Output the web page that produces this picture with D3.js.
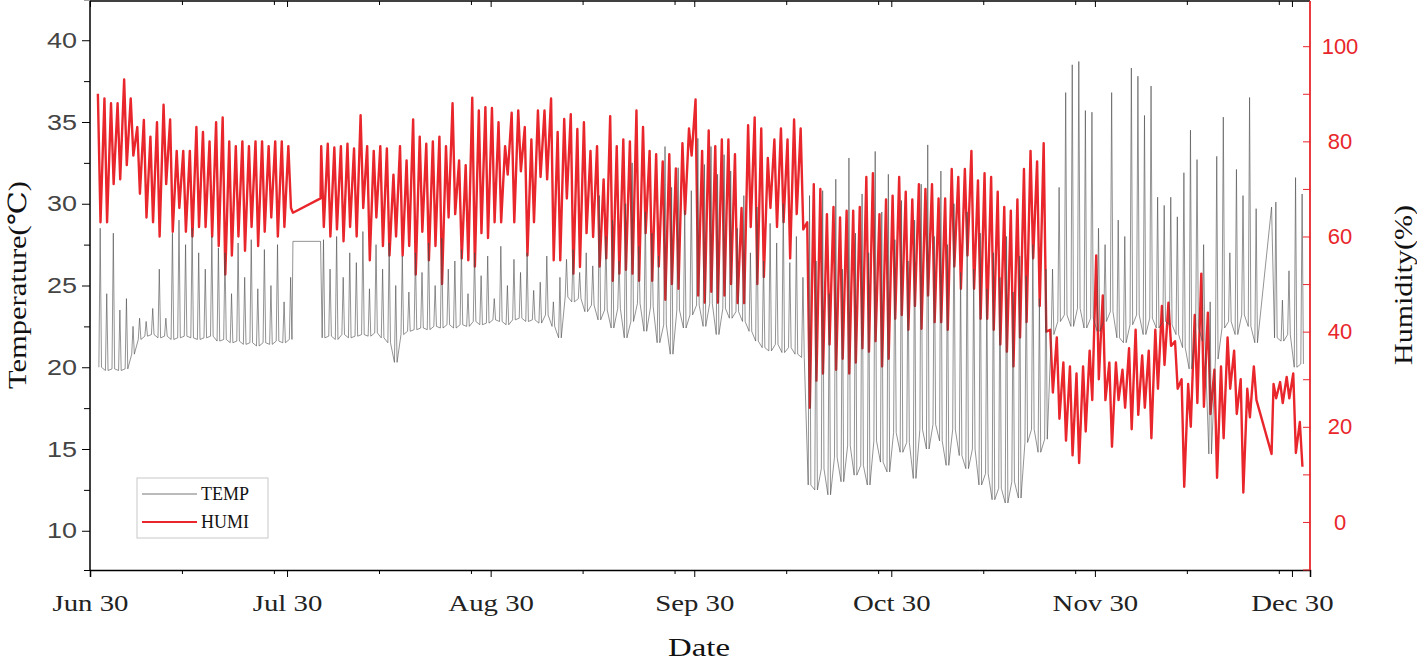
<!DOCTYPE html>
<html>
<head>
<meta charset="utf-8">
<title>Temperature and humidity</title>
<script src="https://cdn.jsdelivr.net/npm/d3@7"></script>
<style>
  body { margin: 0; background: #fff; }
  .serif { font-family: "Liberation Serif", "DejaVu Serif", serif; }
  .sans { font-family: "Liberation Sans", Arial, sans-serif; }
</style>
</head>
<body>
<svg id="chart" width="1417" height="662"></svg>
<script>
// daily values, index 0 = Jul 1 (null = no record)
var tempMin = [
  20.0,19.8,19.9,19.8,19.9,20.8,21.7,21.9,22.0,21.8,
  21.9,21.7,21.8,21.9,21.8,21.7,21.8,21.9,21.6,21.7,
  21.5,21.6,21.4,21.5,21.3,21.5,21.4,21.6,21.5,21.7,
  null,null,null,null,
  21.8,21.9,21.7,22.0,21.8,21.9,22.0,21.9,22.1,21.8,
  21.5,20.3,22.0,22.2,22.3,22.4,22.3,22.5,22.4,22.6,
  22.4,22.6,22.5,22.8,22.6,22.7,22.9,22.8,22.6,22.9,
  23.0,22.8,22.9,22.7,23.2,22.5,21.8,24.3,24.0,
  24.2,23.4,23.8,22.9,23.5,22.4,23.6,21.8,22.8,23.9,
  22.2,23.7,21.5,22.6,20.8,23.5,22.4,23.2,
  23.8,22.5,23.9,22.0,23.6,23.0,23.4,22.8,22.2,21.6,
  21.2,21.0,21.4,20.9,21.2,20.8,20.6,12.8,
  12.5,13.8,12.2,14.5,13.0,15.2,13.4,14.0,12.8,15.5,
  14.2,13.6,16.0,14.8,15.4,13.2,16.2,15.0,16.5,
  15.5,14.0,16.2,14.6,13.8,15.0,12.8,13.5,11.9,12.6,
  11.7,13.0,12.0,15.4,16.2,14.8,15.6,
  22.0,22.8,23.2,22.5,23.6,22.4,23.0,22.2,22.8,23.4,
  21.8,21.5,22.6,23.2,22.0,23.0,22.4,22.8,
  22.6,22.0,21.2,19.9,22.5,21.6,14.7,20.5,22.4,22.8,
  22.0,23.2,22.5,21.5,
  null,null,
  21.8,21.6,22.0,20.0,20.2
];
var tempMax = [
  28.5,24.5,28.2,23.5,24.2,22.5,23.0,22.8,23.6,26.0,
  23.0,28.2,29.0,27.5,28.5,27.0,26.0,28.0,27.3,27.0,
  24.5,27.6,25.5,27.8,24.8,27.2,25.0,27.5,24.0,25.5,
  null,null,null,null,
  27.8,26.0,28.0,25.5,27.0,26.4,28.3,24.8,27.5,26.0,
  27.6,25.0,26.8,24.6,27.0,25.8,27.6,25.0,27.9,26.0,
  26.5,27.2,24.5,27.0,25.6,26.8,24.2,27.4,25.0,26.6,
  25.8,27.0,24.7,25.2,26.8,24.0,25.5,26.6,27.2,
  25.8,27.0,26.2,30.5,28.0,29.0,26.5,30.0,32.5,27.4,
  29.5,28.2,26.8,33.5,31.0,32.2,29.6,30.8,
  34.0,32.4,33.5,31.8,33.0,32.0,28.5,30.5,27.0,29.8,
  26.5,28.8,27.6,30.0,26.4,28.0,25.5,30.5,
  26.5,30.8,24.5,31.5,26.0,32.8,28.2,30.6,27.0,33.2,
  29.5,31.8,27.8,30.2,26.5,29.0,31.2,33.6,28.0,
  32.0,27.5,30.0,25.8,29.5,26.0,28.2,24.8,27.0,25.5,
  28.0,24.6,26.8,25.6,27.5,24.2,26.0,
  26.0,31.0,36.8,38.5,38.7,35.7,35.6,28.5,27.5,36.8,
  29.0,28.0,38.3,37.8,35.4,37.2,30.4,29.9,
  30.4,29.2,31.9,34.5,32.7,27.5,24.0,32.9,35.3,27.0,
  32.1,30.5,36.5,29.7,
  null,null,
  30.1,24.1,25.9,31.6,30.6
];
var humiMax = [
  90,89,88,88,93,89,83,84.5,81,84,
  87.7,84.6,78,78,78,83,82,80,84,85,
  80,79,80,79,80,80,79,80,80,79,
  null,null,null,null,
  79,79.5,78.7,79,79.5,78.5,85.5,79,78,79,
  78.5,73,79,76,84.6,81,79.5,80,81,79,
  88,76,75,89.2,86.5,87.2,87,84,79,86,
  86.5,83,80.4,86.5,86.5,89,82,84.7,85.7,
  82.6,84,78,79,72,85.3,79,80.4,80,86.5,
  83,78,77.3,75.8,77.3,74.3,79.6,82.7,
  88.8,78,82.3,79,80.4,80.4,77.3,66,83.4,85,
  82.7,76.5,80.4,82.7,80.4,84.6,82.7,63,
  71,70,64.7,66.2,64,65.4,65.4,66.2,72.5,73.3,
  64.7,67.8,68.6,72.5,69.4,67.8,71,70,71,
  68,68,74.2,72.5,74.2,78,71.8,73.3,72.5,69.4,
  66.2,65.4,67.8,74.2,78,75.8,79.6,
  40.4,38.8,33.5,32.7,31.2,32.7,36,56,47.6,33.5,
  33.5,32,36.5,40.4,35,36,40.4,45.4,
  46.1,38,30,29,43.5,52.2,44,32,32.7,38.8,
  36,30,28,32.7,
  null,null,
  29,29.4,30.5,31.2,21
];
var humiMin = [
  63,63,71,72,75,77,69,64,63,60,
  71,61,66,61,60,62,62,60,58,52,
  56,60,57,62,58,61,64,60,62,66,
  null,null,null,null,
  62,60,61.5,59,62,60,66,55,64,58,
  56,60,56,58,52,61,55,58,50,64,
  64.7,55.4,55,53.7,60.7,59.7,63,63,73,63,
  73.7,56,63,72.5,72,55,55,68,52.2,
  53.6,60.7,59.9,53.7,55.4,50.7,52.2,53,52.2,50.7,
  60.7,50.7,53.7,46.7,50,49,64.7,77,
  47.6,46.1,48.4,46.1,47.6,50,46,46,62,50,
  51.5,66,62,63,55.4,64.7,61.5,24,
  29.7,31.2,37.3,32,34.3,31.2,33.5,36.5,35.8,38,
  32.7,34.3,42.7,43.5,40.4,45.4,40.6,47.6,42,
  42,40.4,53.7,49,56,49,42.7,42.7,40.4,37.3,
  35.8,32.7,38.8,42,55.4,45.4,40,
  27.2,21.7,17.1,14,12.4,19,25.6,30,25.6,15.8,
  25.6,24,19.5,22.5,24,17.6,28,33,
  37,28,7.4,20,25,24.2,22.7,9.3,17.6,28,
  22.7,6.2,22,25.6,
  null,null,
  26,25,26,14.5,11.6
];
// readings at the edges of the two gaps [day since Jun 30, value]
var tempEdges = [[30.9, 27.7], [35.1, 27.7], [179.9, 29.8]];
var humiEdges = [[30.9, 65], [35.1, 68], [179.9, 14.3]];

var majorTicks = ["2020-06-30","2020-07-30","2020-08-30","2020-09-30","2020-10-30","2020-11-30","2020-12-30"];
var minorTicks = ["2020-07-14","2020-07-28","2020-08-13","2020-08-27","2020-09-13","2020-09-27",
                  "2020-10-14","2020-10-28","2020-11-13","2020-11-27","2020-12-14","2020-12-28"];
var tempTicks = [10, 15, 20, 25, 30, 35, 40];
var humiTicks = [0, 20, 40, 60, 80, 100];

var svg = d3.select("#chart");
var plotL = 90, plotR = 1310, plotT = 1, plotB = 570;
var DAY = 864e5;
var t0 = Date.UTC(2020, 5, 30);
function dayDate(d) { return new Date(t0 + d * DAY); }

var x = d3.scaleUtc().domain([dayDate(0), dayDate(185.75)]).range([plotL, plotR]);
var yT = d3.scaleLinear().domain([7.6, 42.4]).range([plotB, plotT]);
var yH = d3.scaleLinear().domain([-10.1, 109.5]).range([plotB, plotT]);

var tempPts = [], humiPts = [];
tempMin.forEach(function(v, i) {
  if (v == null) return;
  var d = i + 1;
  tempPts.push([d + 0.35, v], [d + 0.55, tempMax[i]], [d + 0.75, v]);
});
humiMax.forEach(function(v, i) {
  if (v == null) return;
  var d = i + 1;
  humiPts.push([d + 0.2, v], [d + 0.6, humiMin[i]]);
});
tempPts = tempPts.concat(tempEdges).sort(function(a, b) { return a[0] - b[0]; });
humiPts = humiPts.concat(humiEdges).sort(function(a, b) { return a[0] - b[0]; });

var humiLine = d3.line().x(function(p) { return x(dayDate(p[0])); }).y(function(p) { return yH(p[1]); });
var tempLine = d3.line().x(function(p) { return x(dayDate(p[0])); }).y(function(p) { return yT(p[1]); });

var red = "#e8262b";
svg.append("path").datum(humiPts).attr("d", humiLine)
  .attr("fill", "none").attr("stroke", red).attr("stroke-width", 2.4).attr("stroke-linejoin", "round");
svg.append("path").datum(tempPts).attr("d", tempLine)
  .attr("fill", "none").attr("stroke", "#4a4a4a").attr("stroke-width", 0.8).attr("stroke-opacity", 0.75);

function dates(list) { return list.map(function(s) { return new Date(s); }); }

// frame top with inward ticks
svg.append("line").attr("x1", plotL).attr("x2", plotR).attr("y1", plotT).attr("y2", plotT)
  .attr("stroke", "#000").attr("stroke-width", 1.5);
svg.append("g").attr("transform", "translate(0," + plotT + ")")
  .call(d3.axisBottom(x).tickValues(dates(majorTicks)).tickSize(6).tickFormat(""))
  .select(".domain").remove();
svg.append("g").attr("transform", "translate(0," + plotT + ")")
  .call(d3.axisBottom(x).tickValues(dates(minorTicks)).tickSize(4).tickFormat(""))
  .select(".domain").remove();

// bottom axis
var xAx = svg.append("g").attr("transform", "translate(0," + plotB + ")")
  .call(d3.axisBottom(x).tickValues(dates(majorTicks))
    .tickSize(7).tickPadding(17).tickFormat(d3.utcFormat("%b %d")));
xAx.select(".domain").attr("stroke-width", 1.5);
xAx.selectAll("text").attr("class", "serif").attr("font-size", 24).attr("fill", "#222")
  .attr("transform", "scale(1.2,1)");
svg.append("g").attr("transform", "translate(0," + plotB + ")")
  .call(d3.axisBottom(x).tickValues(dates(minorTicks)).tickSize(4).tickFormat(""))
  .select(".domain").remove();

// left axis
var yAx = svg.append("g").attr("transform", "translate(" + plotL + ",0)")
  .call(d3.axisLeft(yT).tickValues(tempTicks).tickSize(8).tickPadding(5));
yAx.select(".domain").attr("d", "M0," + plotT + "V" + plotB).attr("stroke-width", 1.5);
yAx.selectAll("text").attr("class", "sans").attr("font-size", 22).attr("fill", "#444")
  .attr("textLength", 30).attr("lengthAdjust", "spacingAndGlyphs");
svg.append("g").attr("transform", "translate(" + plotL + ",0)")
  .call(d3.axisLeft(yT).tickValues(tempTicks.map(function(v) { return v + 2.5; }).concat([7.6])).tickSize(6).tickFormat(""))
  .select(".domain").remove();

// right axis (red, ticks inward)
var rAx = svg.append("g").attr("transform", "translate(" + plotR + ",0)")
  .call(d3.axisLeft(yH).tickValues(d3.range(-10, 110, 10)).tickSize(7).tickFormat(""));
rAx.select(".domain").attr("d", "M0," + plotT + "V" + plotB).attr("stroke", red).attr("stroke-width", 1.8);
rAx.selectAll("line").attr("stroke", red);
svg.append("g").selectAll("text").data(humiTicks).join("text")
  .attr("class", "sans").attr("x", plotR + 30).attr("y", function(v) { return yH(v); })
  .attr("dy", "0.35em").attr("text-anchor", "middle").attr("font-size", 22).attr("fill", red)
  .text(function(v) { return v; });

// axis titles
svg.append("text").attr("class", "serif").attr("font-size", 25).attr("fill", "#111")
  .attr("text-anchor", "middle").attr("transform", "translate(26,285) rotate(-90)")
  .attr("textLength", 208).attr("lengthAdjust", "spacingAndGlyphs")
  .text("Temperature(℃)");
svg.append("text").attr("class", "serif").attr("font-size", 26).attr("fill", "#111")
  .attr("text-anchor", "middle").attr("transform", "translate(1412,285) rotate(-90)")
  .attr("textLength", 160).attr("lengthAdjust", "spacingAndGlyphs")
  .text("Humidity(%)");
svg.append("text").attr("class", "serif").attr("font-size", 26).attr("fill", "#111")
  .attr("text-anchor", "middle").attr("x", 699).attr("y", 656)
  .attr("textLength", 62).attr("lengthAdjust", "spacingAndGlyphs").text("Date");

// legend
var lg = svg.append("g");
lg.append("rect").attr("x", 137).attr("y", 478).attr("width", 131).attr("height", 60)
  .attr("fill", "#fff").attr("stroke", "#c8c8c8").attr("stroke-width", 1);
lg.append("line").attr("x1", 142).attr("x2", 197).attr("y1", 494).attr("y2", 494)
  .attr("stroke", "#777").attr("stroke-width", 1.2);
lg.append("line").attr("x1", 142).attr("x2", 197).attr("y1", 522).attr("y2", 522)
  .attr("stroke", red).attr("stroke-width", 2);
lg.append("text").attr("class", "serif").attr("x", 201).attr("y", 500).attr("font-size", 18).attr("fill", "#111").text("TEMP");
lg.append("text").attr("class", "serif").attr("x", 201).attr("y", 528).attr("font-size", 18).attr("fill", "#111").text("HUMI");
</script>
</body>
</html>
